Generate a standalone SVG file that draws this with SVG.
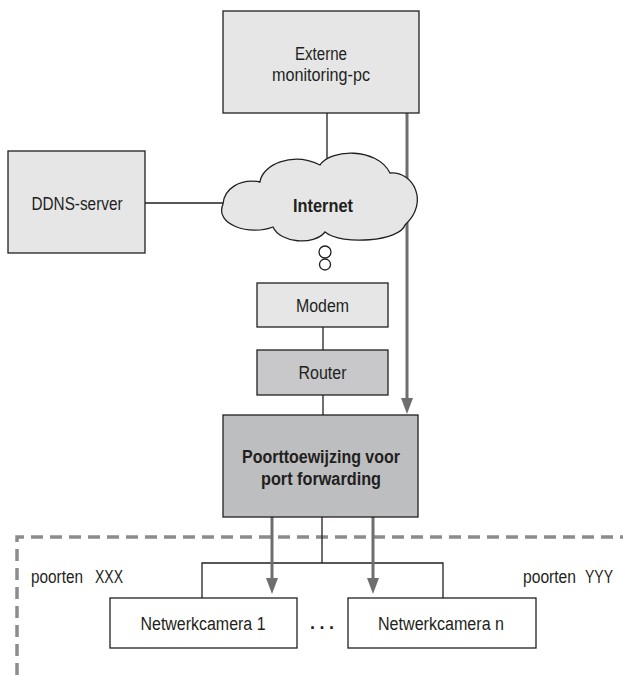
<svg xmlns="http://www.w3.org/2000/svg" width="623" height="675" viewBox="0 0 623 675">
<style>
.box{stroke:#231f20;stroke-width:1.3}
.light{fill:#e6e6e7}
.mid{fill:#c8c8ca}
.dark{fill:#bdbec0}
.white{fill:#ffffff}
.t{font-family:"Liberation Sans",Arial,sans-serif;font-size:18px;fill:#231f20;text-anchor:middle}
.tl{font-family:"Liberation Sans",Arial,sans-serif;font-size:18px;fill:#231f20}
.b{font-weight:bold}
.wire{stroke:#231f20;stroke-width:1.3;fill:none}
.flow{stroke:#6d6e70;stroke-width:3;fill:none}
.zone{stroke:#8c8c8e;stroke-width:3.5;fill:none;stroke-dasharray:12 7}
</style>
<defs>
<marker id="ah" viewBox="0 0 16 12" refX="8" refY="6" markerWidth="16" markerHeight="12" markerUnits="userSpaceOnUse" orient="auto">
<path d="M0,0 L16,6 L0,12 z" fill="#6d6e70"/>
</marker>
</defs>

<path class="zone" d="M17,675 V537 H623"/>

<g id="connectors">
<line class="wire" x1="327" y1="113" x2="327" y2="168"/>
<line class="wire" x1="145" y1="203" x2="226" y2="203"/>
<line class="wire" x1="323" y1="327" x2="323" y2="350"/>
<line class="wire" x1="323" y1="395" x2="323" y2="415"/>
<polyline class="wire" points="322,517 322,563"/>
<polyline class="wire" points="202,598 202,563 443,563 443,598"/>
<line class="flow" x1="407" y1="113" x2="407" y2="406" marker-end="url(#ah)"/>
<line class="flow" x1="272" y1="517" x2="272" y2="586" marker-end="url(#ah)"/>
<line class="flow" x1="373" y1="517" x2="373" y2="586" marker-end="url(#ah)"/>
</g>

<g id="externe">
<rect class="box light" x="223" y="11" width="196" height="102"/>
<text class="t" x="321" y="60" textLength="52" lengthAdjust="spacingAndGlyphs">Externe</text>
<text class="t" x="321" y="81" textLength="98" lengthAdjust="spacingAndGlyphs">monitoring-pc</text>
</g>

<g id="ddns">
<rect class="box light" x="8" y="151" width="137" height="102"/>
<text class="t" x="77" y="210" textLength="91" lengthAdjust="spacingAndGlyphs">DDNS-server</text>
</g>

<g id="internet">
<path class="box light" d="M260,182 C262,165 292,151 320,165 C330,149 377,147 390,173 C413,171 430,202 405,225 C400,241 342,246 325,232 C314,246 280,243 273,227 C250,236 214,225 223,204 C224,189 240,178 260,182 Z"/>
<text class="t b" x="323" y="212" textLength="60" lengthAdjust="spacingAndGlyphs">Internet</text>
<circle class="box white" cx="325" cy="252" r="6"/>
<circle class="box white" cx="325" cy="264.5" r="5.5"/>
</g>

<g id="modem">
<rect class="box light" x="257" y="283" width="131" height="44"/>
<text class="t" x="322.5" y="311.5" textLength="53" lengthAdjust="spacingAndGlyphs">Modem</text>
</g>

<g id="router">
<rect class="box mid" x="257" y="350" width="131" height="45"/>
<text class="t" x="322.5" y="379" textLength="48" lengthAdjust="spacingAndGlyphs">Router</text>
</g>

<g id="poort">
<rect class="box dark" x="223" y="415" width="195" height="102"/>
<text class="t b" x="321" y="463" textLength="158" lengthAdjust="spacingAndGlyphs">Poorttoewijzing voor</text>
<text class="t b" x="321" y="485" textLength="120" lengthAdjust="spacingAndGlyphs">port forwarding</text>
</g>

<g id="camera1">
<rect class="box white" x="110" y="598" width="187" height="50"/>
<text class="t" x="203" y="630" textLength="125" lengthAdjust="spacingAndGlyphs">Netwerkcamera 1</text>
</g>

<g id="dots">
<text class="t b" x="322" y="629" textLength="24" lengthAdjust="spacing">...</text>
</g>

<g id="cameran">
<rect class="box white" x="348" y="598" width="188" height="50"/>
<text class="t" x="441" y="630" textLength="126" lengthAdjust="spacingAndGlyphs">Netwerkcamera n</text>
</g>

<g id="labels">
<text class="tl" x="31" y="583"><tspan textLength="52" lengthAdjust="spacingAndGlyphs">poorten</tspan> <tspan x="95" textLength="28" lengthAdjust="spacingAndGlyphs">XXX</tspan></text>
<text class="tl" x="523" y="583"><tspan textLength="53" lengthAdjust="spacingAndGlyphs">poorten</tspan> <tspan x="585" textLength="28" lengthAdjust="spacingAndGlyphs">YYY</tspan></text>
</g>
</svg>
